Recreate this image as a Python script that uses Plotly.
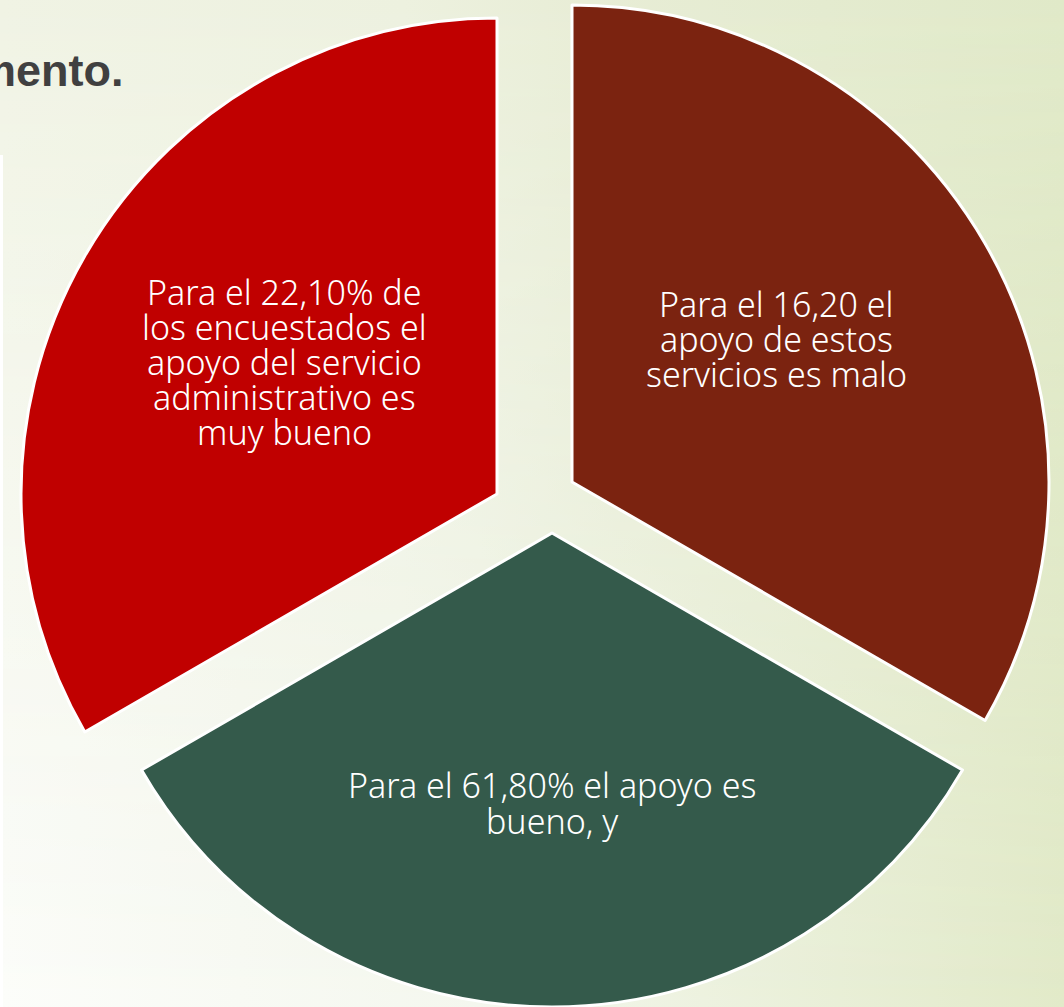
import base64
import plotly.graph_objects as go

W, H = 1064, 1007

# Segments of the cycle diagram (drawn as three equal sectors)
categories = ["malo", "bueno", "muy bueno"]
segment_values = [1, 1, 1]
segment_colors = ["#7B2310", "#345A4B", "#C00000"]
segment_texts = [
    ["Para el 16,20 el", "apoyo de estos", "servicios es malo"],
    ["Para el 61,80% el apoyo es", "bueno, y"],
    ["Para el 22,10% de", "los encuestados el", "apoyo del servicio",
     "administrativo es", "muy bueno"],
]
title_fragment = "mento."

# layout (pixel) geometry of each exploded sector: centre x, centre y, radius
seg_geom = [(572, 482, 477), (552, 533, 474), (497, 494, 476)]
# text placement: centre x, first baseline y, line step
text_geom = [(776, 316, 35), (552, 797, 36), (284, 304, 35)]

TEXT_FONT = dict(family="Noto Sans", size=34, color="white", weight=300)


def px_x(x):
    return x / W


def px_y(y):
    return 1 - y / H


fig = go.Figure()

for i, (cx, cy, r) in enumerate(seg_geom):
    colors = ["rgba(0,0,0,0)"] * len(segment_values)
    widths = [0] * len(segment_values)
    colors[i] = segment_colors[i]
    widths[i] = 3
    fig.add_trace(go.Pie(
        labels=categories,
        values=segment_values,
        sort=False,
        direction="clockwise",
        rotation=0,
        textinfo="none",
        hoverinfo="skip",
        marker=dict(colors=colors, line=dict(color="white", width=widths)),
        domain=dict(x=[px_x(cx - r), px_x(cx + r)],
                    y=[max(0, px_y(cy + r)), min(1, px_y(cy - r))]),
        showlegend=False,
    ))

annotations = []
for lines, (tx, by, step) in zip(segment_texts, text_geom):
    for k, line in enumerate(lines):
        annotations.append(dict(
            x=px_x(tx), y=px_y(by + k * step - 12), xref="paper", yref="paper",
            text=line, showarrow=False, xanchor="center", yanchor="middle",
            borderpad=0,
            font=TEXT_FONT,
        ))

annotations.append(dict(
    x=px_x(126), y=px_y(70), xref="paper", yref="paper",
    text="<b>" + title_fragment + "</b>", showarrow=False,
    xanchor="right", yanchor="middle",
    font=dict(family="Liberation Sans", size=45, color="#404040"),
))

svg = (
    '<svg xmlns="http://www.w3.org/2000/svg" width="1064" height="1007">'
    '<defs>'
    '<linearGradient id="b" x1="0" y1="0" x2="1" y2="0">'
    '<stop offset="0" stop-color="#FCFDFA"/>'
    '<stop offset="0.45" stop-color="#F4F7EE"/>'
    '<stop offset="1" stop-color="#E2EAC9"/>'
    '</linearGradient>'
    '<linearGradient id="t" x1="0" y1="0" x2="1" y2="0">'
    '<stop offset="0" stop-color="#F0F3E4"/>'
    '<stop offset="0.38" stop-color="#EDF1DF"/>'
    '<stop offset="0.55" stop-color="#E8EDD6"/>'
    '<stop offset="1" stop-color="#E0E9C8"/>'
    '</linearGradient>'
    '<linearGradient id="v" x1="0" y1="0" x2="0" y2="1">'
    '<stop offset="0" stop-color="white" stop-opacity="1"/>'
    '<stop offset="1" stop-color="white" stop-opacity="0"/>'
    '</linearGradient>'
    '<mask id="m"><rect width="1064" height="1007" fill="url(#v)"/></mask>'
    '</defs>'
    '<rect width="1064" height="1007" fill="url(#b)"/>'
    '<rect width="1064" height="1007" fill="url(#t)" mask="url(#m)"/>'
    '</svg>'
)
src = "data:image/svg+xml;base64," + base64.b64encode(svg.encode()).decode()

fig.update_layout(
    width=W, height=H,
    margin=dict(l=0, r=0, t=0, b=0),
    paper_bgcolor="#F1F4E6",
    plot_bgcolor="rgba(0,0,0,0)",
    images=[dict(source=src, xref="paper", yref="paper", x=0, y=1,
                 sizex=1, sizey=1, xanchor="left", yanchor="top",
                 sizing="stretch", layer="below")],
    shapes=[dict(type="rect", xref="paper", yref="paper",
                 x0=0, x1=px_x(3), y0=0, y1=px_y(155),
                 fillcolor="white", line=dict(width=0), layer="below")],
    annotations=annotations,
    showlegend=False,
)

fig.write_html(
    "out.html",
    config={"displayModeBar": False},
    post_script="document.body.style.margin='0';"
                "document.body.style.overflow='hidden';",
)
